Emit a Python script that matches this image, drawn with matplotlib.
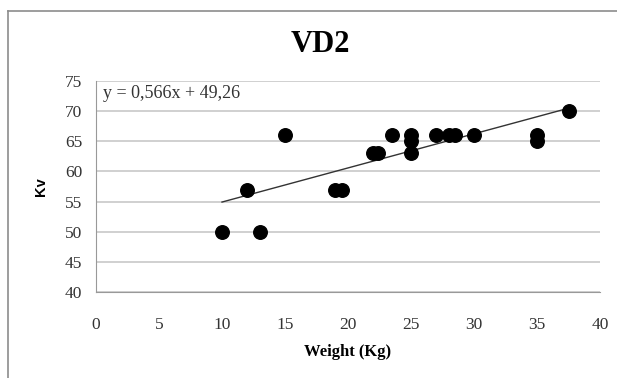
import numpy as np
import matplotlib.pyplot as plt
from matplotlib.lines import Line2D

weight = [10, 12, 13, 15, 19, 19.5, 22, 22.4, 23.5, 25, 25, 25, 27, 28, 28.5, 30, 35, 35, 37.5]
kv = [50, 57, 50, 66, 57, 57, 63, 63, 66, 66, 65, 63, 66, 66, 66, 66, 66, 65, 70]
slope = 0.566
intercept = 49.26
xticks = [0, 5, 10, 15, 20, 25, 30, 35, 40]
yticks = [40, 45, 50, 55, 60, 65, 70, 75]

serif = 'Liberation Serif'

fig = plt.figure(figsize=(6.17, 3.78), dpi=100)
ax = fig.add_axes([96/617, 1-292/378, 504/617, 211/378])

# outer chart frame (left and top edges visible)
fig.add_artist(Line2D([8/617, 8/617], [0, 1-11/378], transform=fig.transFigure, color='#8c8c8c', lw=1.2))
fig.add_artist(Line2D([8/617, 1], [1-11/378, 1-11/378], transform=fig.transFigure, color='#8c8c8c', lw=1.2))

ax.set_xlim(0, 40)
ax.set_ylim(40, 75)
ax.set_xticks(xticks)
ax.set_yticks(yticks)
ax.yaxis.grid(True, color='#c8c8c8', lw=1.2)
ax.set_axisbelow(True)
for s in ['top', 'right']:
    ax.spines[s].set_visible(False)
ax.spines['left'].set_color('#999999')
ax.spines['bottom'].set_color('#999999')
ax.tick_params(length=0, labelsize=12.5, colors='#333333')
ax.tick_params(axis='y', pad=10)
ax.tick_params(axis='x', pad=18)
for lab in ax.get_xticklabels() + ax.get_yticklabels():
    lab.set_family(serif)

ax.scatter(weight, kv, s=95, color='black', zorder=3, clip_on=False)

xs = np.array([min(weight), max(weight)])
ax.plot(xs, slope*xs + intercept, color='#333333', lw=1.0, zorder=2)

ax.text(0.55, 73.0, 'y = 0,566x + 49,26', family=serif, fontsize=13, color='#333333', va='center')

fig.text(320/617, 1-45/378, 'VD2', family=serif, fontsize=22, fontweight='bold', ha='center', va='center')
fig.text(348/617, 1-352/378, 'Weight (Kg)', family=serif, fontsize=12, fontweight='bold', ha='center', va='center')
fig.text(41/617, 1-187/378, 'Kv', family='Liberation Sans', fontsize=10.5, fontweight='bold', rotation=90, ha='center', va='center')

fig.savefig('out.png', dpi=100)
